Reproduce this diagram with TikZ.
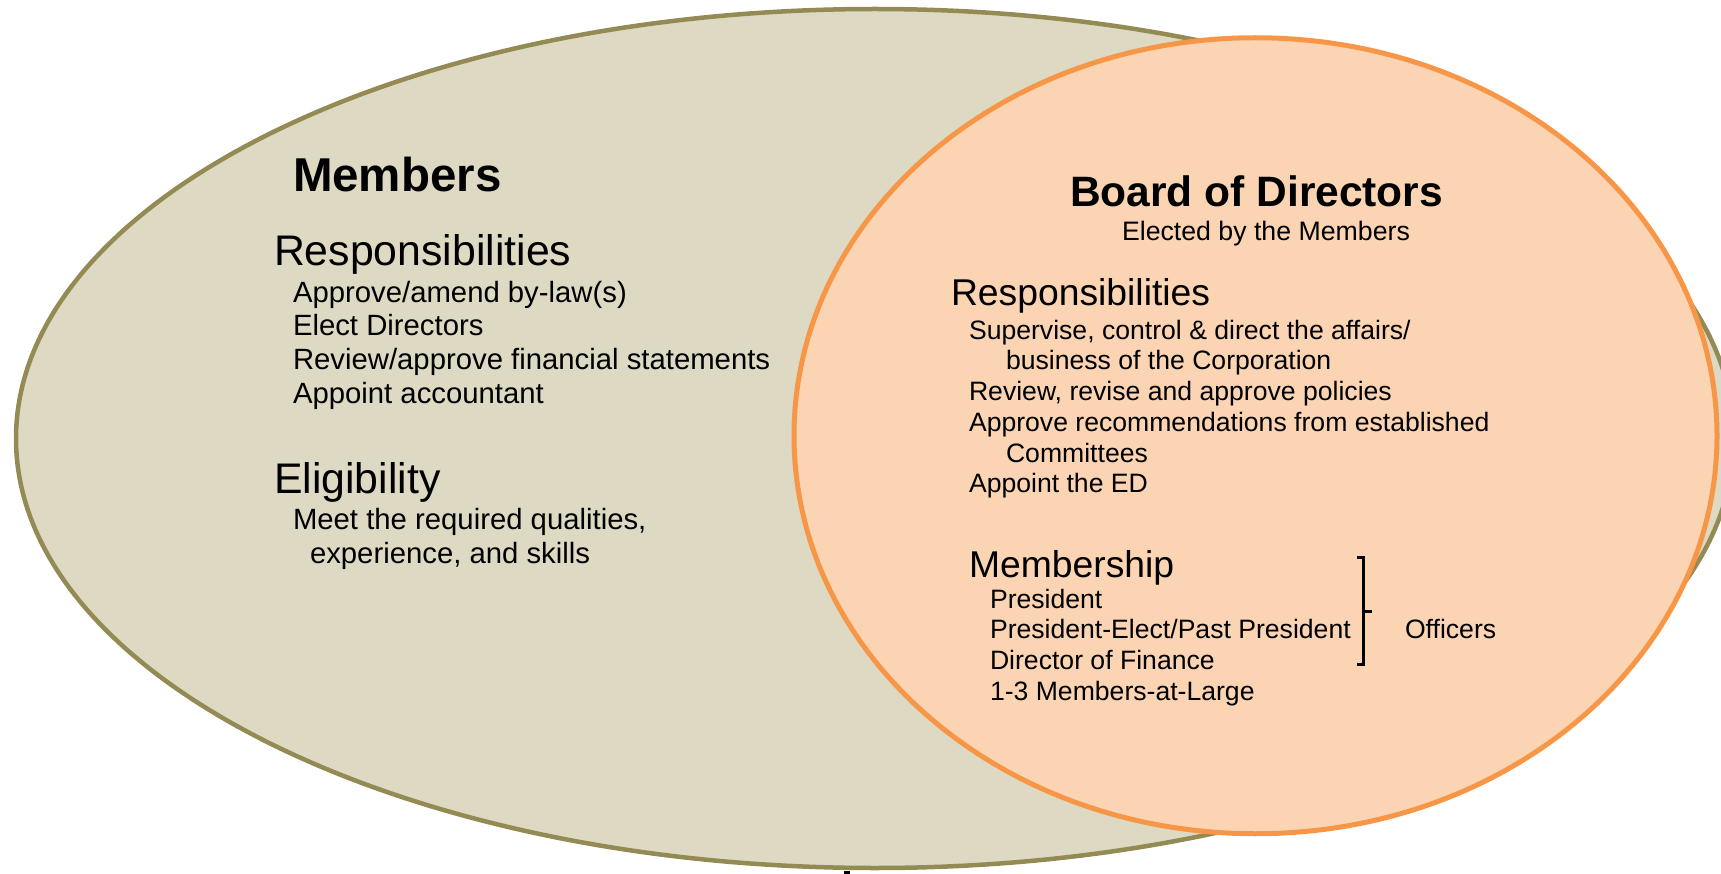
\documentclass[tikz,border=0pt]{standalone}
\usepackage{fontspec}
\setmainfont{Liberation Sans}
\definecolor{tanfill}{HTML}{DDD9C3}
\definecolor{tanline}{HTML}{948A54}
\definecolor{orfill}{HTML}{FBD4B4}
\definecolor{orline}{HTML}{F79646}
\begin{document}
\begin{tikzpicture}[x=1pt,y=-1pt,
  txt/.style={anchor=base west, inner sep=0pt, outer sep=0pt},
  bigtitle/.style={txt, font=\bfseries\fontsize{47.5}{50}\selectfont},
  midtitle/.style={txt, font=\bfseries\fontsize{42.5}{45}\selectfont},
  lhead/.style={txt, font=\fontsize{42.8}{46}\selectfont},
  litem/.style={txt, font=\fontsize{29.3}{33}\selectfont},
  rhead/.style={txt, font=\fontsize{37.3}{40}\selectfont},
  ritem/.style={txt, font=\fontsize{26.6}{30}\selectfont},
  subitem/.style={txt, font=\fontsize{26.7}{30}\selectfont},
  bracket/.style={line width=3pt, line cap=butt}]
\useasboundingbox (0,0) rectangle (1721,874);
\begin{scope}
\clip (0,0) rectangle (1721,874);
\draw[line width=4.5pt, draw=tanline, fill=tanfill] (875,438.5) ellipse [x radius=859pt, y radius=429.5pt];
\draw[line width=5pt, draw=orline, fill=orfill] (1255.5,435.75) ellipse [x radius=461.5pt, y radius=398pt];
\fill[black] (844,871) rectangle (850,874);
\end{scope}

% Members
\node[bigtitle] (mem) at (293,192) {Members};
\node[lhead] (mresp) at (274,266) {Responsibilities};
\node[litem] (m1) at (293,303) {Approve/amend by-law(s)};
\node[litem] (m2) at (293,336) {Elect Directors};
\node[litem] (m3) at (293,369.5) {Review/approve financial statements};
\node[litem] (m4) at (293,403) {Appoint accountant};
\node[lhead] (melig) at (274,493.5) {Eligibility};
\node[litem] (m5) at (293,529) {Meet the required qualities,};
\node[litem] (m6) at (310,563) {experience, and skills};

% Board
\node[midtitle] (bod) at (1070,207) {Board of Directors};
\node[subitem] (elect) at (1122,241) {Elected by the Members};
\node[rhead] (bresp) at (951,306) {Responsibilities};
\node[ritem] (b1) at (969,339.5) {Supervise, control \& direct the affairs/};
\node[ritem] (b2) at (1006,370) {business of the Corporation};
\node[ritem] (b3) at (969,400.5) {Review, revise and approve policies};
\node[ritem] (b4) at (969,431.5) {Approve recommendations from established};
\node[ritem] (b5) at (1006,462) {Committees};
\node[ritem] (b6) at (969,492.5) {Appoint the ED};
\node[rhead] (bmem) at (969,577) {Membership};
\node[ritem] (p1) at (990,608) {President};
\node[ritem] (p2) at (990,638.5) {President-Elect/Past President};
\node[ritem] (p3) at (990,669.5) {Director of Finance};
\node[ritem] (p4) at (990,700) {1-3 Members-at-Large};
\node[ritem] (off) at (1405,638.5) {Officers};

% bracket
\coordinate (bt) at (1357,557);
\coordinate (bb) at (1357,664);
\coordinate (bm) at (1363,611);
\coordinate (bmr) at (1372,611);
\draw[bracket] (bt) -- ++(6,0) |- (bb);
\draw[bracket] (bm) -- (bmr);
\end{tikzpicture}
\end{document}
